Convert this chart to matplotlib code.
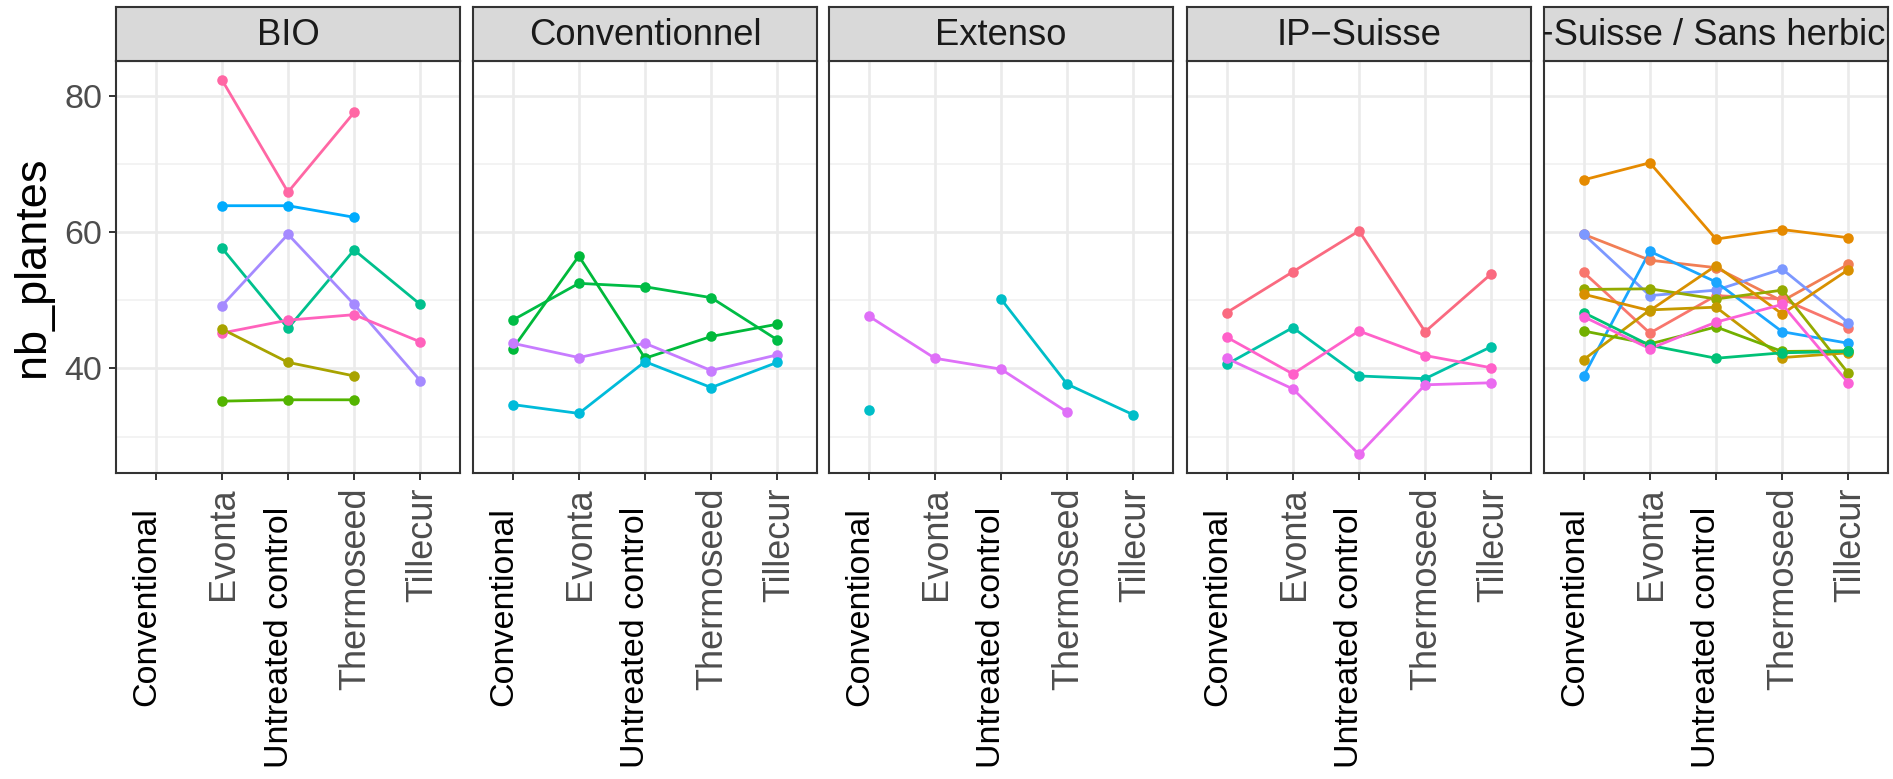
import matplotlib
matplotlib.use("Agg")
import matplotlib.pyplot as plt
import numpy as np
from matplotlib.transforms import ScaledTranslation

nan = np.nan

categories = ["Conventional", "Evonta", "Untreated control", "Thermoseed", "Tillecur"]
black_labels = ["Conventional", "Untreated control"]
facets = ["BIO", "Conventionnel", "Extenso", "IP\u2212Suisse", "IP\u2212Suisse / Sans herbicide"]

# ---- values (nb_plantes) per facet, one list per line ----
bio_values = [
    [nan, 82.4, 65.9, 77.6, nan],
    [nan, 63.9, 63.9, 62.2, nan],
    [nan, 57.7, 45.9, 57.4, 49.4],
    [nan, 49.2, 59.7, 49.4, 38.2],
    [nan, 45.2, 47.1, 47.9, 43.9],
    [nan, 45.8, 40.9, 38.9, nan],
    [nan, 35.2, 35.4, 35.4, nan],
]
bio_colors = ["#FF67A4", "#00ABFD", "#00C08D", "#A58AFF", "#FF62BC", "#A8A300", "#53B400"]

conv_values = [
    [47.1, 52.5, 52.0, 50.4, 44.2],
    [42.9, 56.5, 41.5, 44.7, 46.5],
    [43.7, 41.6, 43.7, 39.7, 42.0],
    [34.7, 33.4, 41.0, 37.2, 40.9],
]
conv_colors = ["#00BC45", "#00B93A", "#C77CFF", "#00BBDA"]

ext_values = [
    [47.7, 41.5, 39.9, 33.6, nan],
    [33.9, nan, 50.2, 37.7, 33.2],
]
ext_colors = ["#DF70F8", "#00BEC8"]

ips_values = [
    [48.2, 54.2, 60.2, 45.4, 53.9],
    [40.6, 46.0, 38.9, 38.5, 43.2],
    [44.6, 39.2, 45.5, 41.9, 40.1],
    [41.5, 37.0, 27.4, 37.6, 37.9],
]
ips_colors = ["#FA6A80", "#00C1A7", "#FF61C9", "#EA6BF0"]

ipsh_values = [
    [67.7, 70.2, 59.0, 60.4, 59.2],
    [59.7, 55.9, 54.8, 49.9, 55.3],
    [54.1, 45.2, 50.7, 50.2, 46.0],
    [59.7, 50.7, 51.5, 54.6, 46.7],
    [38.9, 57.2, 52.7, 45.4, 43.7],
    [51.6, 51.7, 50.2, 51.5, 39.3],
    [50.9, 48.5, 55.1, 48.0, 54.5],
    [41.3, 48.6, 49.0, 41.6, 42.3],
    [45.5, 43.6, 46.1, 42.5, 42.6],
    [48.2, 43.4, 41.5, 42.3, 42.5],
    [47.6, 42.9, 46.8, 49.4, 37.9],
]
ipsh_colors = ["#E58A00", "#F17E55", "#F8766D", "#7C98FF", "#1AA6FF", "#94AA00",
               "#D89000", "#C49A00", "#72B000", "#00C176", "#FB61D7"]

y_ticks = [40, 60, 80]
y_minor = [30, 50, 70]

panel_values = [bio_values, conv_values, ext_values, ips_values, ipsh_values]
panel_colors = [bio_colors, conv_colors, ext_colors, ips_colors, ipsh_colors]

# ---- layout ----
W, H = 1893, 779
fig = plt.figure(figsize=(W / 100, H / 100), dpi=100)
FONT = "Liberation Sans"

lefts = [116, 473, 829, 1187, 1544]
pw = 344
ptop, pbot = 61, 473
stop = 7

allv = np.array([v for pv in panel_values for s in pv for v in s], dtype=float)
vmin, vmax = np.nanmin(allv), np.nanmax(allv)
rng = vmax - vmin
ylim = (vmin - 0.05 * rng, vmax + 0.05 * rng)
x = np.arange(len(categories))

border = "#333333"
for k, (vals, cols) in enumerate(zip(panel_values, panel_colors)):
    l = lefts[k]
    ax = fig.add_axes([l / W, 1 - pbot / H, pw / W, (pbot - ptop) / H])
    ax.set_xlim(-0.6, len(categories) - 0.4)
    ax.set_ylim(*ylim)
    ax.set_facecolor("white")
    for yv in y_minor:
        ax.axhline(yv, color="#F0F0F0", lw=1.1, zorder=0)
    for yv in y_ticks:
        ax.axhline(yv, color="#EBEBEB", lw=1.9, zorder=0)
    for xv in x:
        ax.axvline(xv, color="#EBEBEB", lw=1.9, zorder=0)
    for s, c in zip(vals, cols):
        ax.plot(x, s, color=c, lw=2.0, zorder=2, solid_capstyle="round")
    for s, c in zip(vals, cols):
        ax.plot(x, s, color=c, lw=0, marker="o", ms=7.6, zorder=3, markeredgewidth=0)
    for sp in ax.spines.values():
        sp.set_color(border)
        sp.set_linewidth(1.5)
    ax.set_xticks(x)
    ax.set_xticklabels([])
    ax.tick_params(axis="x", length=5, width=1.4, color=border)
    if k == 0:
        ax.set_yticks(y_ticks)
        ax.set_yticklabels([str(t) for t in y_ticks], fontsize=24.5, color="#4D4D4D",
                           family=FONT)
        ax.tick_params(axis="y", length=5, width=1.4, color=border, pad=5)
    else:
        ax.set_yticks([])
    # x tick labels
    for xi, cat in zip(x, categories):
        if cat in black_labels:
            dx, dy, col, fs = -9, -34, "black", 24.5
        else:
            dx, dy, col, fs = 2, -14, "#4D4D4D", 26
        tr = ax.get_xaxis_transform() + ScaledTranslation(dx / 100, dy / 100, fig.dpi_scale_trans)
        ax.text(xi, 0, cat, rotation=90, ha="center", va="top", color=col,
                fontsize=fs, family=FONT, transform=tr, clip_on=False)
    # strip
    sax = fig.add_axes([l / W, 1 - ptop / H, pw / W, (ptop - stop) / H])
    sax.set_facecolor("#D9D9D9")
    sax.set_xticks([])
    sax.set_yticks([])
    for sp in sax.spines.values():
        sp.set_color(border)
        sp.set_linewidth(1.5)
    sax.text(0.5, 0.48, facets[k], ha="center", va="center", fontsize=26.2,
             color="#1A1A1A", family=FONT, transform=sax.transAxes, clip_on=True)

fig.text(33 / W, 1 - 267 / H, "nb_plantes", rotation=90, ha="center", va="center",
         fontsize=32.5, color="black", family=FONT)

fig.savefig("out.png", dpi=100)
